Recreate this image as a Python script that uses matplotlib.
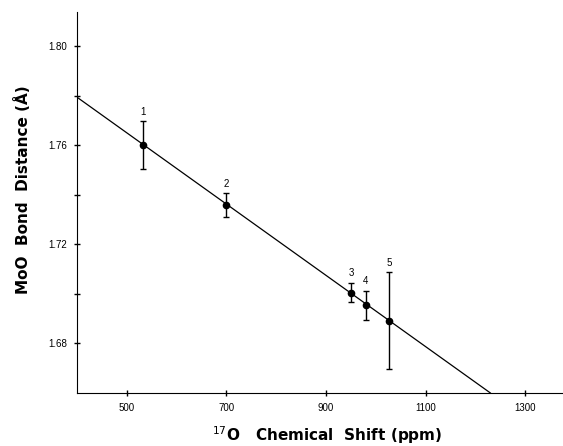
import numpy as np
import matplotlib.pyplot as plt

plt.rcParams['font.family'] = ['Liberation Sans', 'DejaVu Sans']

# data
labels = ['1', '2', '3', '4', '5']
shift = [533, 700, 950, 980, 1027]          # 17O chemical shift (ppm)
dist = [1.760, 1.7358, 1.7005, 1.6953, 1.6892]  # MoO bond distance (A)
err = [0.0098, 0.0048, 0.0040, 0.0060, 0.0195]

# fitted line end points
fit_x = [400, 1230]
fit_y = [1.7793, 1.660]

fig = plt.figure(figsize=(5.63, 4.46), dpi=100)
ax = fig.add_axes([0.137, 0.119, 0.863, 0.854])

ax.plot(fit_x, fit_y, color='black', lw=0.9)
ax.errorbar(shift, dist, yerr=err, fmt='o', color='black', ms=4.5,
            elinewidth=1.0, capsize=2.5, capthick=1.0)
for lab, x, y, e in zip(labels, shift, dist, err):
    ax.annotate(lab, (x, y + e), xytext=(0, 3), textcoords='offset points',
                ha='center', va='bottom', fontsize=7)

ax.set_xlim(400, 1376)
ax.set_ylim(1.66, 1.8137)
ax.set_xticks([500, 700, 900, 1100, 1300])
ax.set_yticks([1.68, 1.70, 1.72, 1.74, 1.76, 1.78, 1.80])
ax.set_yticklabels(['1.68', '', '1.72', '', '1.76', '', '1.80'])
ax.tick_params(direction='inout', length=5, width=1, labelsize=7, pad=5)

ax.spines['top'].set_visible(False)
ax.spines['right'].set_visible(False)

lab_font = dict(family='DejaVu Sans', fontsize=11, fontweight='bold')
ax.set_xlabel(r'$^{17}$O   Chemical  Shift (ppm)', va='center', **lab_font)
ax.set_ylabel('MoO  Bond  Distance (Å)', va='center', **lab_font)
ax.xaxis.set_label_coords(0.514, -0.112)
ax.yaxis.set_label_coords(-0.113, 0.533)

fig.savefig('out.png', dpi=100)
